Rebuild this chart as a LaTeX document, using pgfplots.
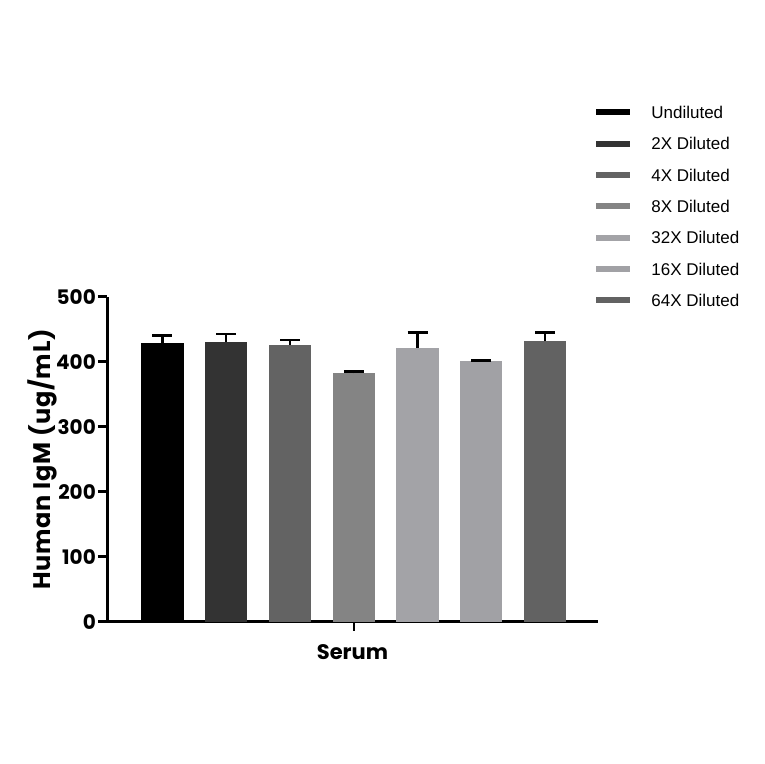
\documentclass[border=0pt]{standalone}
\usepackage{fontspec}
\setmainfont{Poppins}
\newfontfamily\legfont{Liberation Sans}
\usepackage{pgfplots}
\pgfplotsset{compat=1.18}
\definecolor{c1}{HTML}{000000}
\definecolor{c2}{HTML}{333333}
\definecolor{c3}{HTML}{636363}
\definecolor{c4}{HTML}{848484}
\definecolor{c5}{HTML}{A3A3A7}
\definecolor{c6}{HTML}{A1A1A5}
\definecolor{c7}{HTML}{626262}
\begin{document}
\begin{tikzpicture}[x=1pt,y=1pt]
  \path[use as bounding box] (0,0) rectangle (764,764);
  \begin{axis}[
      at={(107pt,142pt)}, anchor=south west,
      scale only axis, width=491pt, height=325pt,
      xmin=-0.87, xmax=6.83, ymin=0, ymax=500,
      axis x line=bottom, axis y line=left,
      axis line style={line width=3pt,-},
      xtick={3}, xticklabels={},
      ytick={0,100,200,300,400,500},
      tick align=outside, major tick length=9pt,
      ytick style={line width=3pt,black},
      xtick style={line width=2pt,black},
      /pgf/number format/assume math mode=true,
      ticklabel style={font=\bfseries\fontsize{20}{24}\selectfont},
      yticklabel style={inner sep=2pt},
      xlabel={Serum},
      ylabel={\addfontfeature{LetterSpace=3}Human IgM (ug/mL)},
      xlabel style={font=\bfseries\fontsize{21}{24}\selectfont,
        at={(axis description cs:0.5,0)}, anchor=center, yshift=-30pt},
      ylabel style={font=\bfseries\fontsize{24}{28}\selectfont, yshift=-6pt},
      bar width=0.66,
      error bars/y dir=plus, error bars/y explicit,
      error bars/error bar style={line width=2.5pt,black},
      error bars/error mark options={line width=2.5pt,black,mark size=10pt,rotate=90},
      legend image code/.code={\fill[#1] (0pt,-3pt) rectangle (34pt,3pt);
        \node[inner sep=0pt,draw=none,fill=none] at (54pt,0pt) {};},
      legend style={at={(1,1.588)}, anchor=north west, xshift=-2pt,
        draw=none, fill=none, inner sep=0pt, row sep=19pt,
        font=\legfont\fontsize{17}{19}\selectfont,
        nodes={inner sep=0pt, text depth=0pt}},
      legend cell align=left,
      every axis plot/.append style={ybar, bar shift=0pt, draw=none},
    ]
    \addplot[fill=c1] coordinates {(0,429) +- (0,12)};
    \addlegendentry{Undiluted}
    \addplot[fill=c2] coordinates {(1,431) +- (0,12)};
    \addlegendentry{2X Diluted}
    \addplot[fill=c3] coordinates {(2,426) +- (0,8)};
    \addlegendentry{4X Diluted}
    \addplot[fill=c4] coordinates {(3,383) +- (0,2)};
    \addlegendentry{8X Diluted}
    \addplot[fill=c5] coordinates {(4,422) +- (0,23)};
    \addlegendentry{32X Diluted}
    \addplot[fill=c6] coordinates {(5,401) +- (0,1.5)};
    \addlegendentry{16X Diluted}
    \addplot[fill=c7] coordinates {(6,432) +- (0,13)};
    \addlegendentry{64X Diluted}
  \end{axis}
\end{tikzpicture}
\end{document}
